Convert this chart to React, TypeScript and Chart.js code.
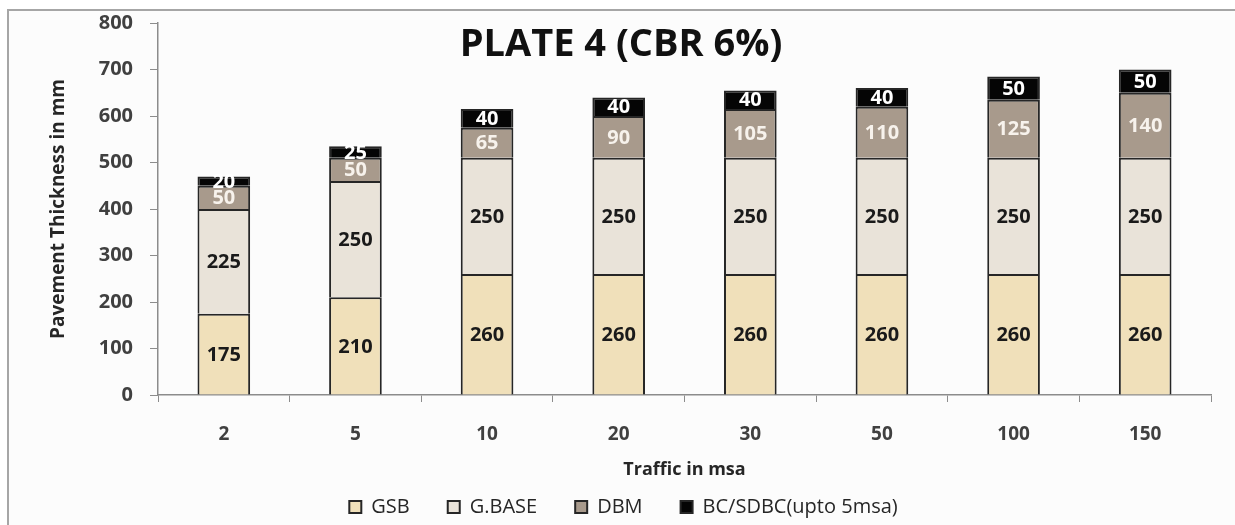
import React, { useEffect, useRef } from "react";
import { Chart, registerables } from "chart.js";

Chart.register(...registerables);

const categories = ["2", "5", "10", "20", "30", "50", "100", "150"];
const gsb = [175, 210, 260, 260, 260, 260, 260, 260];
const gbase = [225, 250, 250, 250, 250, 250, 250, 250];
const dbm = [50, 50, 65, 90, 105, 110, 125, 140];
const bc = [20, 25, 40, 40, 40, 40, 50, 50];
const seriesNames = ["GSB", "G.BASE", "DBM", "BC/SDBC(upto 5msa)"];
const titleText = "PLATE 4 (CBR 6%)";
const xTitle = "Traffic in msa";
const yTitle = "Pavement Thickness in mm";

const FONT = "'Open Sans', Lato, sans-serif";

const framePlugin = {
  id: "frame",
  beforeDraw(chart: any) {
    const { ctx, width, height } = chart;
    ctx.save();
    ctx.fillStyle = "#ffffff";
    ctx.fillRect(0, 0, width, height);
    ctx.fillStyle = "#fcfcfc";
    ctx.fillRect(9, 11, width, height);
    ctx.strokeStyle = "#a6a6a6";
    ctx.lineWidth = 2;
    ctx.beginPath();
    ctx.moveTo(8, height + 5);
    ctx.lineTo(8, 10);
    ctx.lineTo(width + 5, 10);
    ctx.stroke();
    ctx.restore();
  },
};

const titlePlugin = {
  id: "plateTitle",
  afterDraw(chart: any) {
    const { ctx } = chart;
    ctx.save();
    ctx.font = `bold 38px ${FONT}`;
    ctx.fillStyle = "#111111";
    ctx.textAlign = "center";
    ctx.textBaseline = "middle";
    ctx.fillText(titleText, 621, 45);
    ctx.restore();
  },
};

const labelColors = ["#1a1a1a", "#1a1a1a", "#f7f2ec", "#ffffff"];

const valueLabelPlugin = {
  id: "valueLabels",
  afterDatasetsDraw(chart: any) {
    const { ctx } = chart;
    ctx.save();
    ctx.textAlign = "center";
    ctx.textBaseline = "middle";
    chart.data.datasets.forEach((ds: any, di: number) => {
      const meta = chart.getDatasetMeta(di);
      meta.data.forEach((el: any, i: number) => {
        const v = ds.data[i];
        const y = (el.y + el.base) / 2;
        ctx.font = `bold 20px ${FONT}`;
        ctx.fillStyle = labelColors[di];
        ctx.fillText(String(v), el.x, y + 1);
      });
    });
    ctx.restore();
  },
};

export default function App() {
  const ref = useRef<HTMLCanvasElement | null>(null);
  useEffect(() => {
    if (!ref.current) return;
    const border = "#262626";
    const chart = new Chart(ref.current, {
      type: "bar",
      data: {
        labels: categories,
        datasets: [
          { label: seriesNames[0], data: gsb, backgroundColor: "#f0e0ba", borderColor: border, borderWidth: 2 },
          { label: seriesNames[1], data: gbase, backgroundColor: "#e9e3d9", borderColor: border, borderWidth: 2 },
          { label: seriesNames[2], data: dbm, backgroundColor: "#a89a8c", borderColor: border, borderWidth: 2 },
          { label: seriesNames[3], data: bc, backgroundColor: "#050505", borderColor: border, borderWidth: 2 },
        ],
      },
      options: {
        animation: false,
        responsive: true,
        maintainAspectRatio: false,
        layout: { padding: { top: 23, left: 36, right: 24, bottom: -2 } },
        datasets: { bar: { barPercentage: 0.4, categoryPercentage: 1 } },
        scales: {
          x: {
            stacked: true,
            grid: { drawOnChartArea: false, drawTicks: true, tickLength: 7, color: "#8c8c8c" },
            border: { color: "#8c8c8c", width: 1.5 },
            ticks: { color: "#404040", font: { family: FONT, size: 19, weight: "bold" }, padding: 21 },
            title: {
              display: true,
              text: xTitle,
              color: "#262626",
              font: { family: FONT, size: 18, weight: "bold" },
              padding: { top: 0, bottom: -22 },
            },
            afterFit: (scale: any) => {
              scale.height = 64;
            },
          },
          y: {
            stacked: true,
            min: 0,
            max: 800,
            grid: { drawOnChartArea: false, drawTicks: true, tickLength: 8, color: "#8c8c8c" },
            border: { color: "#8c8c8c", width: 1.5 },
            ticks: {
              stepSize: 100,
              color: "#404040",
              font: { family: FONT, size: 20, weight: "bold", lineHeight: 0.6 },
              padding: 17,
            },
            title: {
              display: true,
              text: yTitle,
              color: "#262626",
              font: { family: FONT, size: 19, weight: "bold" },
              padding: { top: 11, bottom: 0 },
            },
            afterFit: (scale: any) => {
              scale.width = 122;
            },
          },
        },
        plugins: {
          legend: {
            position: "bottom",
            labels: {
              boxWidth: 12,
              boxHeight: 12,
              padding: 38,
              color: "#262626",
              font: { family: FONT, size: 20 },
            },
          },
          tooltip: { enabled: false },
        },
      },
      plugins: [framePlugin, valueLabelPlugin, titlePlugin],
    });
    return () => chart.destroy();
  }, []);
  return (
    <div style={{ position: "absolute", left: 0, top: 0, width: 1235, height: 525 }}>
      <canvas ref={ref} />
    </div>
  );
}
